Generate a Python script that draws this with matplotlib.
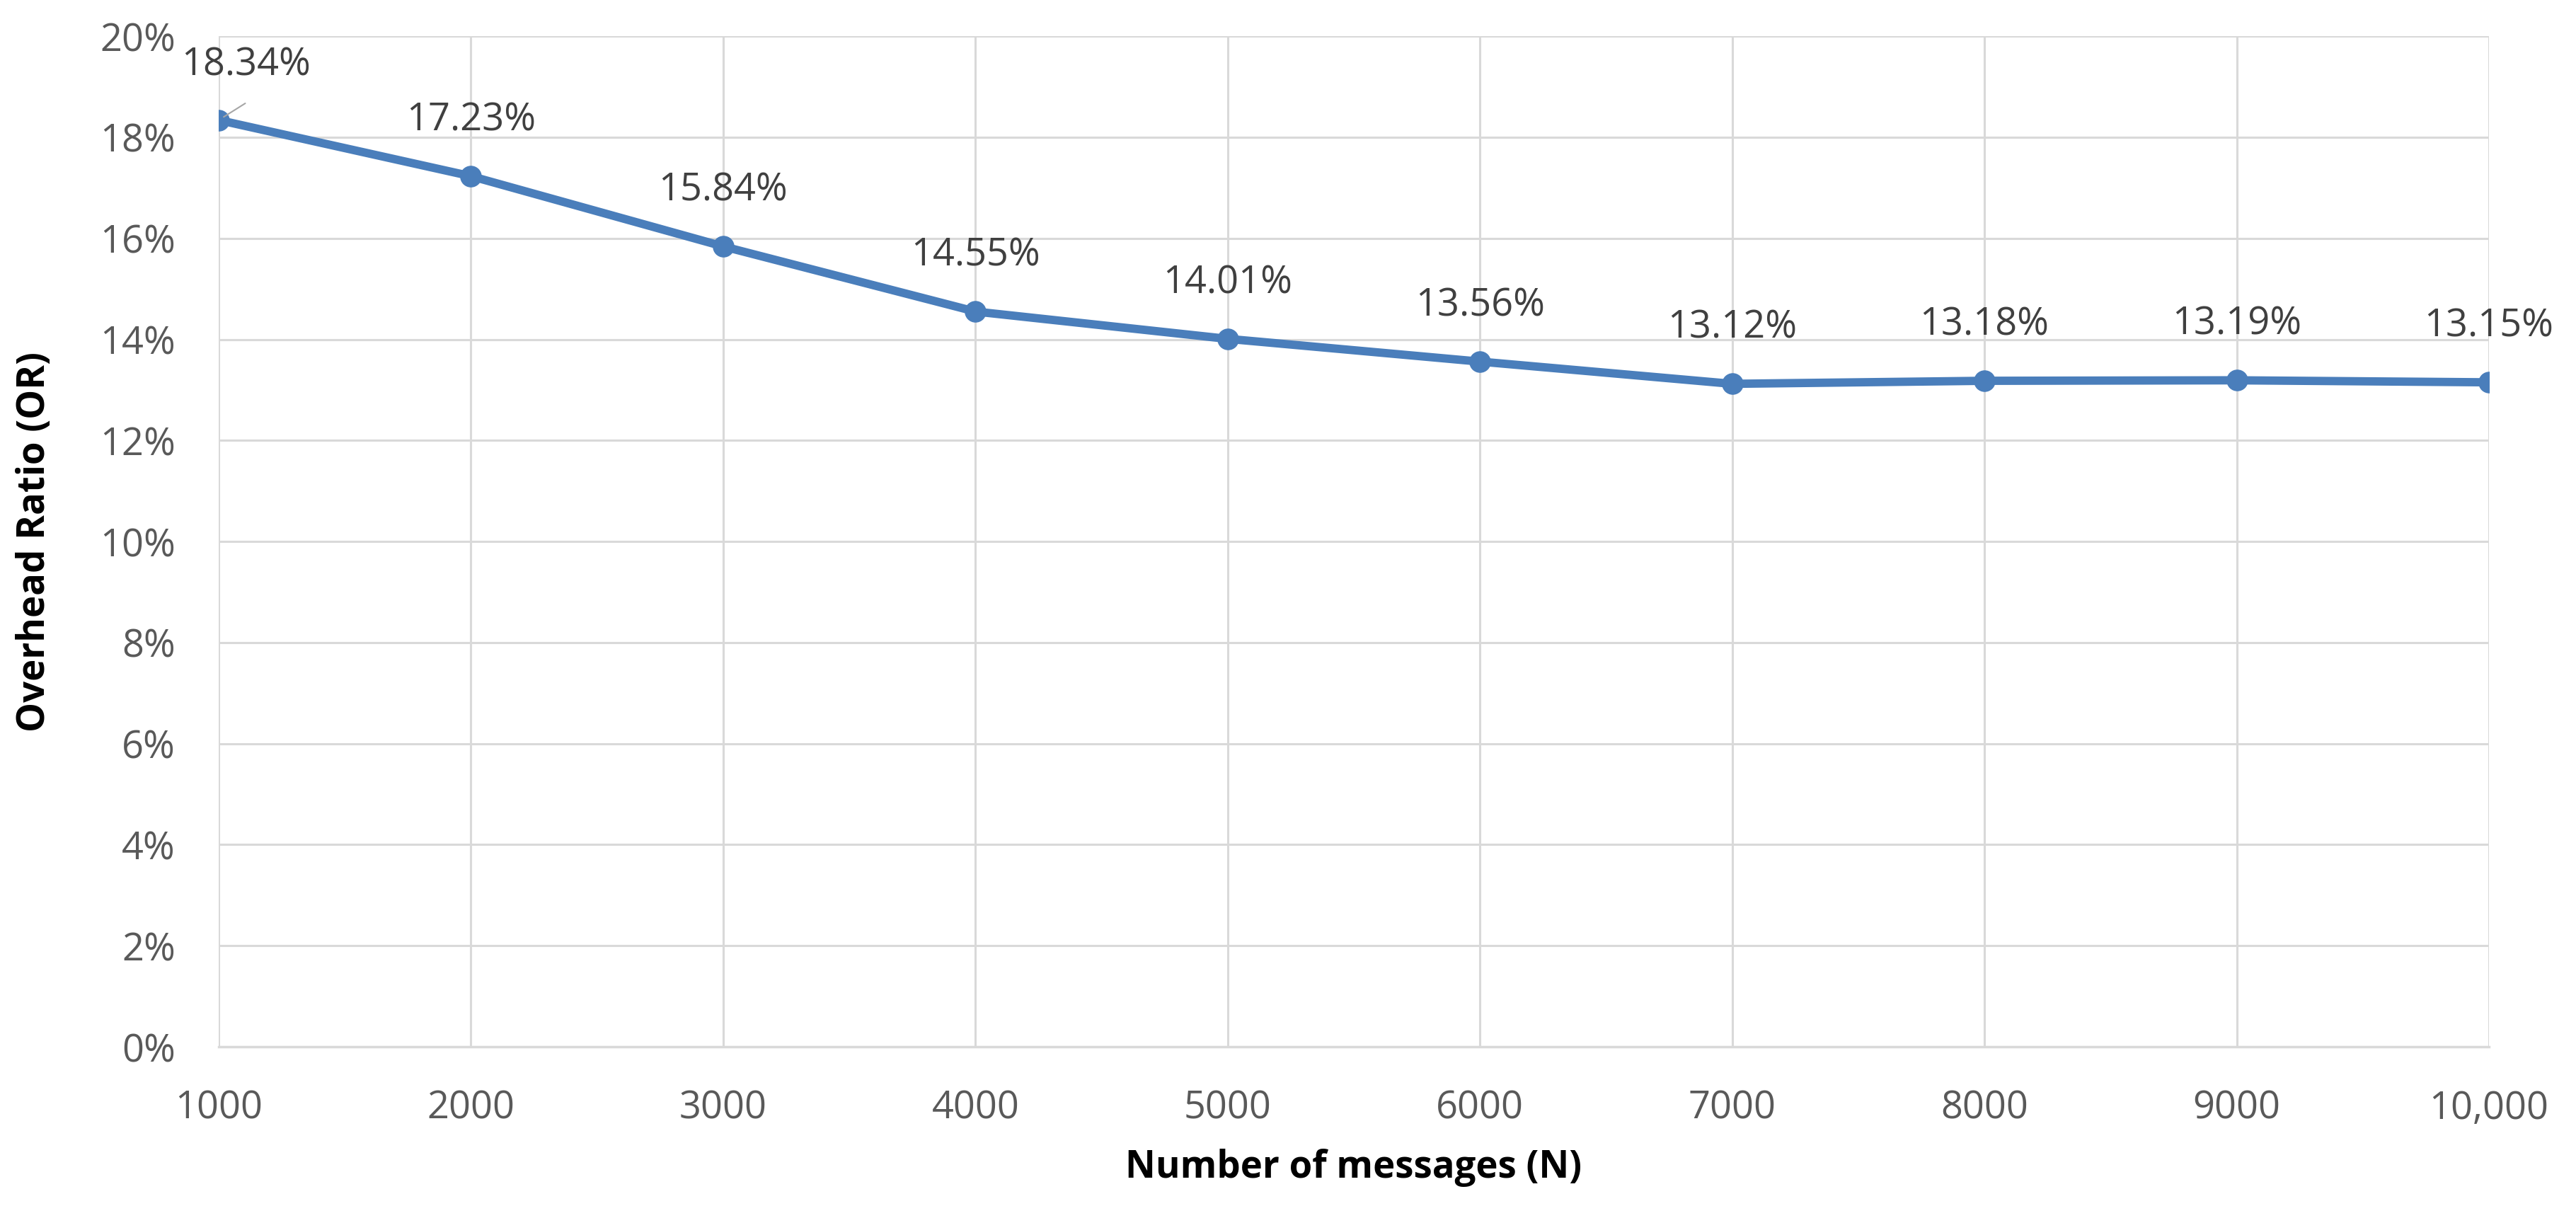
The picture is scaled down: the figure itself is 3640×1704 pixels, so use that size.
import matplotlib.pyplot as plt
from matplotlib.ticker import FuncFormatter

# data
n_messages = [1000, 2000, 3000, 4000, 5000, 6000, 7000, 8000, 9000, 10000]
overhead = [18.34, 17.23, 15.84, 14.55, 14.01, 13.56, 13.12, 13.18, 13.19, 13.15]
x_ticklabels = ['1000', '2000', '3000', '4000', '5000', '6000', '7000', '8000', '9000', '10,000']

plt.rcParams['font.family'] = ['Open Sans', 'DejaVu Sans']

fig = plt.figure(figsize=(36.4, 17.04), dpi=100)
ax = fig.add_axes([0.0849, 0.132, 0.8813, 0.838])

line_col = '#4A7EBB'
tick_col = '#595959'
lab_col = '#404040'

ax.plot(n_messages, overhead, color=line_col, lw=8.5, marker='o', ms=21,
        solid_capstyle='round', zorder=3)

# data labels above the points (excel style), first one nudged right
for i, (x, y) in enumerate(zip(n_messages, overhead)):
    dx, dy = (28, 56) if i == 0 else (0, 57)
    ax.annotate(f'{y:.2f}%', (x, y), xytext=(dx, dy), textcoords='offset points',
                ha='center', va='center', fontsize=39, color=lab_col)
# short leader line for the first label
ax.annotate('', (n_messages[0], overhead[0]), xytext=(27, 17), textcoords='offset points',
            arrowprops=dict(arrowstyle='-', color='#A6A6A6', lw=1.5, shrinkA=0, shrinkB=6))

ax.set_xlim(1000, 10000)
ax.set_ylim(0, 20)
ax.set_xticks(n_messages)
ax.set_xticklabels(x_ticklabels)
ax.set_yticks(range(0, 21, 2))
ax.yaxis.set_major_formatter(FuncFormatter(lambda v, p: f'{v:.0f}%'))

ax.grid(True, color='#D9D9D9', lw=2.2)
ax.set_axisbelow(True)
for s in ['top', 'right', 'left']:
    ax.spines[s].set_visible(False)
ax.spines['bottom'].set_color('#D9D9D9')
ax.spines['bottom'].set_linewidth(2.5)
ax.tick_params(axis='both', length=0, labelsize=39, labelcolor=tick_col)
ax.tick_params(axis='x', pad=43)
ax.tick_params(axis='y', pad=44)

ax.set_xlabel('Number of messages (N)', fontsize=38, fontweight='bold', va='center')
ax.set_ylabel('Overhead Ratio (OR)', fontsize=38, fontweight='bold', va='center')
ax.xaxis.set_label_coords(0.5, -0.12)
ax.yaxis.set_label_coords(-0.081, 0.5)

fig.savefig('out.png', dpi=100, facecolor='white')
